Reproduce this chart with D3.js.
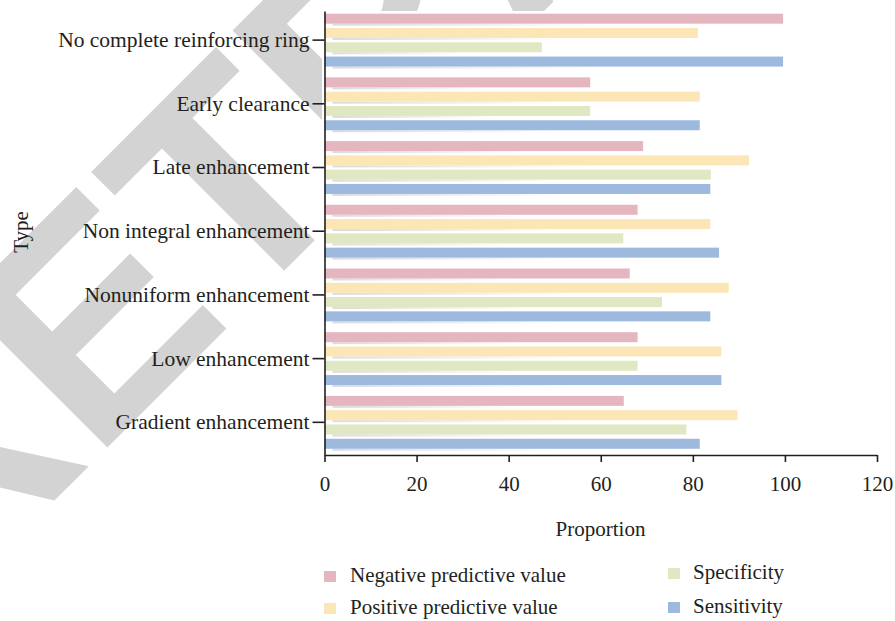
<!DOCTYPE html>
<html>
<head>
<meta charset="utf-8">
<script src="https://cdn.jsdelivr.net/npm/d3@7/dist/d3.min.js"></script>
<style>
body { margin: 0; background: #fff; }
svg { display: block; }
</style>
</head>
<body>
<svg id="chart" width="895" height="621"></svg>
<script>
// categories, top to bottom
var categories = ["No complete reinforcing ring", "Early clearance", "Late enhancement",
    "Non integral enhancement", "Nonuniform enhancement", "Low enhancement", "Gradient enhancement"];
var seriesNames = ["Negative predictive value", "Positive predictive value", "Specificity", "Sensitivity"];

var negPredictive = [99.6, 57.7, 69.2, 68.0, 66.3, 68.0, 65.0];
var posPredictive = [81.1, 81.5, 92.2, 83.8, 87.8, 86.2, 89.7];
var specificity   = [47.2, 57.7, 83.9, 64.9, 73.3, 68.0, 78.6];
var sensitivity   = [99.6, 81.5, 83.8, 85.7, 83.8, 86.2, 81.5];

var xTickValues = [0, 20, 40, 60, 80, 100, 120];
var colors = ["#e5b6bf", "#fde6b6", "#dfe8c3", "#9eb9de"];

var seriesValues = [negPredictive, posPredictive, specificity, sensitivity];

var serif = "'Liberation Serif', 'Times New Roman', serif";
var ink = "#231f20";

var svg = d3.select("#chart"),
    width = +svg.attr("width"),
    height = +svg.attr("height");

// retracted watermark, sits behind the plot
svg.append("text")
    .attr("transform", "translate(-60,615) rotate(-45)")
    .style("font-family", "'Liberation Sans', Arial, sans-serif")
    .style("font-weight", "bold")
    .style("font-size", "300px")
    .style("fill", "#d3d3d3")
    .text("RETRACTED");

svg.append("rect")
    .attr("x", 322).attr("y", 11)
    .attr("width", width - 322).attr("height", height - 11)
    .attr("fill", "#fff");

var x = d3.scaleLinear().domain([0, 120]).range([324.5, 877]);

var y = d3.scaleBand()
    .domain(categories)
    .range([11, 455])
    .paddingInner(0.17)
    .paddingOuter(0.07)
    .align(0.3);

var ySub = d3.scaleBand()
    .domain(seriesNames)
    .range([0, y.bandwidth()])
    .paddingInner(0.3);

var defs = svg.append("defs");
var grad = defs.append("linearGradient").attr("id", "shade");
grad.append("stop").attr("offset", "0%").attr("stop-color", "#999").attr("stop-opacity", 0.35);
grad.append("stop").attr("offset", "100%").attr("stop-color", "#999").attr("stop-opacity", 0);

var rows = [];
categories.forEach(function(c, i) {
    seriesNames.forEach(function(s, j) {
        rows.push({cat: c, series: s, idx: j, value: seriesValues[j][i]});
    });
});

var group = svg.append("g");

// soft shadow under each bar
group.selectAll(".shadow")
    .data(rows)
    .enter().append("rect")
    .attr("class", "shadow")
    .attr("x", x(0) + 8)
    .attr("y", function(d) { return y(d.cat) + ySub(d.series) + ySub.bandwidth(); })
    .attr("width", function(d) { return (x(d.value) - x(0)) * 0.6; })
    .attr("height", 2)
    .attr("fill", "url(#shade)");

group.selectAll(".bar")
    .data(rows)
    .enter().append("rect")
    .attr("class", "bar")
    .attr("x", x(0))
    .attr("y", function(d) { return y(d.cat) + ySub(d.series); })
    .attr("width", function(d) { return x(d.value) - x(0); })
    .attr("height", ySub.bandwidth())
    .attr("fill", function(d) { return colors[d.idx]; });

var xAxis = svg.append("g")
    .attr("transform", "translate(0,455)")
    .call(d3.axisBottom(x).tickValues(xTickValues).tickSize(7).tickSizeOuter(0).tickPadding(14));

var yAxis = svg.append("g")
    .attr("transform", "translate(324.5,0)")
    .call(d3.axisLeft(y).tickSize(12).tickSizeOuter(0).tickPadding(3));

xAxis.selectAll("path, line").attr("stroke", ink).attr("stroke-width", 1.6);
yAxis.selectAll("path, line").attr("stroke", ink).attr("stroke-width", 1.6);
xAxis.selectAll("text").style("font-family", serif).style("font-size", "21px").attr("fill", ink);
yAxis.selectAll("text").style("font-family", serif).style("font-size", "21.5px").attr("fill", ink);

svg.append("text")
    .attr("x", 600.5).attr("y", 536)
    .attr("text-anchor", "middle")
    .style("font-family", serif)
    .style("font-size", "21px")
    .attr("fill", ink)
    .text("Proportion");

svg.append("text")
    .attr("transform", "translate(28,232) rotate(-90)")
    .attr("text-anchor", "middle")
    .style("font-family", serif)
    .style("font-size", "21px")
    .attr("fill", ink)
    .text("Type");

// legend, two columns
var legendPos = [[324, 571], [324, 603], [668, 568], [668, 602]];
var legend = svg.append("g").selectAll("g")
    .data(seriesNames)
    .enter().append("g")
    .attr("transform", function(d, i) { return "translate(" + legendPos[i][0] + "," + legendPos[i][1] + ")"; });

legend.append("rect")
    .attr("width", 12).attr("height", 11)
    .attr("fill", function(d, i) { return colors[i]; });

legend.append("text")
    .attr("x", function(d, i) { return i < 2 ? 26 : 25; })
    .attr("y", 11)
    .style("font-family", serif)
    .style("font-size", "21px")
    .attr("fill", ink)
    .text(function(d) { return d; });
</script>
</body>
</html>
